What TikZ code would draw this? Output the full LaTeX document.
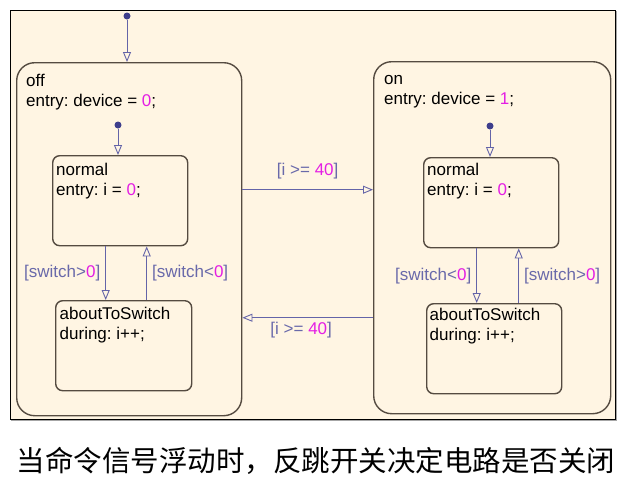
\documentclass[tikz,border=0pt]{standalone}
\usepackage{fontspec}
\setmainfont{Liberation Sans}
\newfontfamily\cjkfont{Noto Sans CJK SC}
\usetikzlibrary{arrows.meta, positioning, calc}
\definecolor{chartbg}{RGB}{255,245,227}
\definecolor{stateline}{RGB}{85,75,65}
\definecolor{transblue}{RGB}{100,100,168}
\definecolor{dotblue}{RGB}{62,62,140}
\definecolor{labelblue}{RGB}{105,105,170}
\definecolor{numpink}{RGB}{228,30,228}
\frenchspacing

\begin{document}
\begin{tikzpicture}[x=1pt, y=-1pt]
  % Styles for chart elements
  \tikzset{state/.style={draw=stateline, line width=1.4pt, fill=chartbg, rounded corners=18pt, anchor=north west, inner sep=0pt}}
  \tikzset{substate/.style={state, rounded corners=7pt}}
  \tikzset{stxt/.style={font=\fontsize{17}{20}\selectfont, align=left, inner sep=0pt}}
  \tikzset{trans/.style={draw=transblue, line width=0.9pt, -{Triangle[open, length=10pt, width=8pt]}}}
  \tikzset{initdot/.style={circle, fill=dotblue, inner sep=0pt, minimum size=7pt}}
  \tikzset{guard/.style={font=\fontsize{17}{20}\selectfont, text=labelblue, inner sep=0pt}}

  \useasboundingbox (0,0) rectangle (629,480);

  % Chart frame
  \draw[gray!70, line width=1.5pt] (616.5,11) -- (616.5,420.5) -- (11,420.5);
  \draw[fill=chartbg, line width=0.8pt] (10,10) rectangle (615,419);

  % --- State off ---
  \node[state, minimum width=225pt, minimum height=353pt] (off) at (16,62) {};
  \node[stxt, below right=10pt and 10pt of off.north west] (offtxt) {\strut off\\entry: device = \textcolor{numpink}{0};};
  \node[substate, minimum width=135pt, minimum height=90pt] (offnormal) at (52,155) {};
  \node[stxt, below right=6pt and 4pt of offnormal.north west] (offnormaltxt) {\strut normal\\entry: i = \textcolor{numpink}{0};};
  \node[substate, minimum width=136pt, minimum height=90pt] (offabout) at (55,300) {};
  \node[stxt, below right=5pt and 4.5pt of offabout.north west] (offabouttxt) {\strut aboutToSwitch\\during: i++;};

  % --- State on ---
  \node[state, minimum width=237pt, minimum height=352pt] (on) at (373,61) {};
  \node[stxt, below right=9pt and 11pt of on.north west] (ontxt) {\strut on\\entry: device = \textcolor{numpink}{1};};
  \node[substate, minimum width=135pt, minimum height=90pt] (onnormal) at (423,157) {};
  \node[stxt, below right=4.5pt and 4pt of onnormal.north west] (onnormaltxt) {\strut normal\\entry: i = \textcolor{numpink}{0};};
  \node[substate, minimum width=135pt, minimum height=90pt] (onabout) at (426,303) {};
  \node[stxt, below right=3.7pt and 3.5pt of onabout.north west] (onabouttxt) {\strut aboutToSwitch\\during: i++;};

  % Default transitions
  \node[initdot] (chartinit) at (127,16) {};
  \node[initdot] (offinit) at (118,125) {};
  \node[initdot] (oninit) at (490,126) {};
  \draw[trans] (chartinit) -- (chartinit |- off.north);
  \draw[trans] (offinit) -- (offinit |- offnormal.north);
  \draw[trans] (oninit) -- (oninit |- onnormal.north);

  % Inner transitions of off
  \draw[trans] ([xshift=-14.5pt]offnormal.south) -- ([xshift=-14.5pt]offnormal.south |- offabout.north)
    node[guard, midway, left=5pt] {[switch>\textcolor{numpink}{0}]};
  \draw[trans] ([xshift=26.5pt]offnormal.south |- offabout.north) -- ([xshift=26.5pt]offnormal.south)
    node[guard, midway, right=5pt] {[switch<\textcolor{numpink}{0}]};

  % Inner transitions of on
  \draw[trans] ([xshift=-14.5pt]onnormal.south) -- ([xshift=-14.5pt]onnormal.south |- onabout.north)
    node[guard, midway, left=5pt] {[switch<\textcolor{numpink}{0}]};
  \draw[trans] ([xshift=27.5pt]onnormal.south |- onabout.north) -- ([xshift=27.5pt]onnormal.south)
    node[guard, midway, right=5pt] {[switch>\textcolor{numpink}{0}]};

  % off <-> on
  \draw[trans] ([yshift=49.5pt]off.east) -- ([yshift=49.5pt]off.east -| on.west)
    node[guard, midway, above=10pt] {[i >= \textcolor{numpink}{40}]};
  \draw[trans] ([yshift=-78.5pt]off.east -| on.west) -- ([yshift=-78.5pt]off.east)
    node[guard, pos=0.55, below=4pt] {[i >= \textcolor{numpink}{40}]};

  % Caption
  \node[font=\cjkfont\fontsize{28.5}{32}\selectfont, inner sep=0pt] (caption) at (316,461) {当命令信号浮动时，反跳开关决定电路是否关闭};
\end{tikzpicture}
\end{document}
